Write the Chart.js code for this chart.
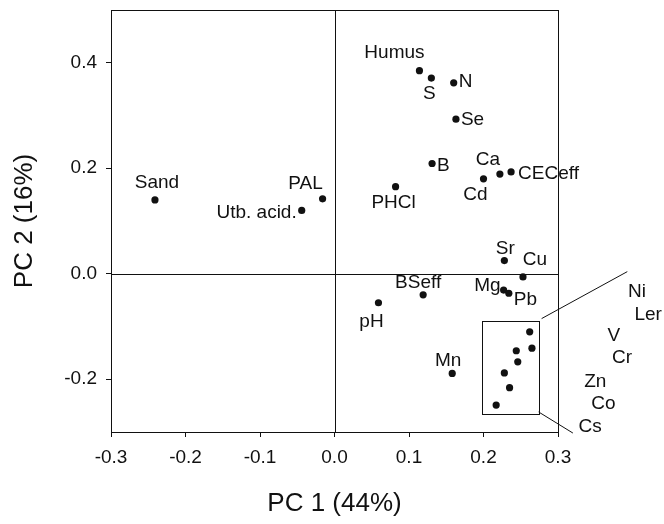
<!DOCTYPE html>
<html>
<head>
<meta charset="utf-8">
<script src="https://cdn.jsdelivr.net/npm/chart.js@4.4.0/dist/chart.umd.min.js"></script>
<style>
  html, body { margin: 0; padding: 0; background: #fff; }
  #wrap { width: 664px; height: 524px; }
</style>
</head>
<body>
<div id="wrap"><canvas id="pcaChart"></canvas></div>
<script>
// PCA loadings
const variables = ['Humus', 'S', 'N', 'Se', 'B', 'Ca', 'Cd', 'CECeff', 'PHCl', 'Sand', 'PAL', 'Utb. acid.',
    'Sr', 'Cu', 'Mg', 'Pb', 'BSeff', 'pH', 'Mn', 'Ni', 'Ler', 'V', 'Cr', 'Zn', 'Co', 'Cs'];
const pc1 = [0.114, 0.130, 0.160, 0.163, 0.131, 0.222, 0.200, 0.237, 0.082, -0.241, -0.016, -0.044,
    0.228, 0.253, 0.227, 0.234, 0.119, 0.059, 0.158, 0.262, 0.265, 0.244, 0.246, 0.228, 0.235, 0.217];
const pc2 = [0.385, 0.371, 0.362, 0.293, 0.209, 0.189, 0.180, 0.193, 0.165, 0.140, 0.142, 0.120,
    0.025, -0.006, -0.031, -0.037, -0.040, -0.055, -0.189, -0.110, -0.141, -0.146, -0.167, -0.188, -0.216, -0.249];
const xTicks = [-0.3, -0.2, -0.1, 0.0, 0.1, 0.2, 0.3];
const yTicks = [-0.2, 0.0, 0.2, 0.4];

// names shown outside the plot, next to the zoom box
const insetNames = ['Ni', 'Ler', 'V', 'Cr', 'Zn', 'Co', 'Cs'];

const FONT = '"Liberation Sans", Arial, Helvetica, sans-serif';
const INK = '#111';

// where each label sits relative to its dot: [align, dx, dy] in px
const labelPlace = {
    'Humus': ['center', -25, -18], 'S': ['center', -2, 16], 'N': ['left', 5, -1], 'Se': ['left', 5, 1],
    'B': ['left', 5, 2], 'Ca': ['center', -12, -14], 'Cd': ['center', -8, 16], 'CECeff': ['left', 7, 2],
    'PHCl': ['center', -2, 16], 'Sand': ['center', 2, -17], 'PAL': ['center', -17, -15],
    'Utb. acid.': ['right', -5, 2], 'Sr': ['center', 1, -12], 'Cu': ['center', 12, -17],
    'Mg': ['right', -3, -4], 'Pb': ['left', 5, 6], 'BSeff': ['center', -5, -12],
    'pH': ['center', -7, 19], 'Mn': ['center', -4, -13]
};

// zoom box, leader lines and inset labels, in data units
const zoomBox = { x0: 0.198, x1: 0.274, y0: -0.266, y1: -0.089 };
const leaders = [[0.278, -0.085, 0.393, 0.004], [0.274, -0.262, 0.320, -0.302]];
const insetPos = [[0.406, -0.034], [0.421, -0.078], [0.375, -0.118], [0.386, -0.160],
    [0.350, -0.205], [0.361, -0.247], [0.343, -0.290]];

const px = v => Math.round(v) + 0.5;

const decorations = {
    id: 'decorations',
    beforeDatasetsDraw(chart) {
        const { ctx, chartArea: a, scales: { x, y } } = chart;
        ctx.save();
        ctx.strokeStyle = INK;
        ctx.lineWidth = 1;
        ctx.beginPath();
        ctx.moveTo(a.left, px(a.top)); ctx.lineTo(a.right, px(a.top));
        ctx.moveTo(px(a.right), a.top); ctx.lineTo(px(a.right), a.bottom);
        const zx = px(x.getPixelForValue(0)), zy = px(y.getPixelForValue(0));
        ctx.moveTo(zx, a.top); ctx.lineTo(zx, a.bottom);
        ctx.moveTo(a.left, zy); ctx.lineTo(a.right, zy);
        ctx.stroke();
        ctx.restore();
    },
    afterDatasetsDraw(chart) {
        const { ctx, scales: { x, y } } = chart;
        ctx.save();
        ctx.strokeStyle = INK;
        ctx.fillStyle = INK;
        ctx.lineWidth = 1;

        // box round the cluster
        const bx0 = px(x.getPixelForValue(zoomBox.x0)), bx1 = px(x.getPixelForValue(zoomBox.x1));
        const by0 = px(y.getPixelForValue(zoomBox.y1)), by1 = px(y.getPixelForValue(zoomBox.y0));
        ctx.strokeRect(bx0, by0, bx1 - bx0, by1 - by0);
        ctx.beginPath();
        leaders.forEach(l => {
            ctx.moveTo(x.getPixelForValue(l[0]), y.getPixelForValue(l[1]));
            ctx.lineTo(x.getPixelForValue(l[2]), y.getPixelForValue(l[3]));
        });
        ctx.stroke();

        ctx.font = '19px ' + FONT;
        ctx.textBaseline = 'middle';

        // point labels
        const meta = chart.getDatasetMeta(0);
        meta.data.forEach((pt, i) => {
            const p = labelPlace[variables[i]];
            if (!p) return;
            ctx.textAlign = p[0];
            ctx.fillText(variables[i], pt.x + p[1], pt.y + p[2]);
        });

        // inset labels
        ctx.textAlign = 'center';
        insetNames.forEach((n, i) => {
            ctx.fillText(n, x.getPixelForValue(insetPos[i][0]), y.getPixelForValue(insetPos[i][1]));
        });
        ctx.restore();
    }
};

new Chart(document.getElementById('pcaChart'), {
    type: 'scatter',
    data: {
        datasets: [{
            label: 'Loadings',
            data: variables.map((v, i) => ({ x: pc1[i], y: pc2[i] })),
            backgroundColor: INK,
            borderColor: INK,
            pointRadius: 3.6,
            pointBorderWidth: 0
        }]
    },
    options: {
        responsive: true,
        maintainAspectRatio: false,
        animation: false,
        layout: { padding: { top: 10, right: 106, left: 0, bottom: 0 } },
        plugins: { legend: { display: false }, tooltip: { enabled: false } },
        scales: {
            x: {
                type: 'linear',
                min: -0.3,
                max: 0.3,
                afterFit: s => { s.height = 92; s.paddingLeft = 0; s.paddingRight = 0; },
                afterBuildTicks: s => { s.ticks = xTicks.map(v => ({ value: v })); },
                grid: { drawOnChartArea: false, drawTicks: true, tickLength: 5, color: INK },
                border: { display: true, color: INK, width: 1 },
                ticks: {
                    color: INK, padding: 9, maxRotation: 0,
                    font: { family: FONT, size: 19 },
                    callback: v => v.toFixed(1)
                },
                title: {
                    display: true, text: 'PC 1 (44%)', color: INK,
                    font: { family: FONT, size: 26, lineHeight: 1 },
                    padding: { top: 0, bottom: 7 }
                }
            },
            y: {
                type: 'linear',
                min: -0.3,
                max: 0.5,
                afterFit: s => { s.width = 111; s.paddingTop = 0; s.paddingBottom = 0; },
                afterBuildTicks: s => { s.ticks = yTicks.map(v => ({ value: v })); },
                grid: { drawOnChartArea: false, drawTicks: true, tickLength: 5, color: INK },
                border: { display: true, color: INK, width: 1 },
                ticks: {
                    color: INK, padding: 9,
                    font: { family: FONT, size: 19 },
                    callback: v => v.toFixed(1)
                },
                title: {
                    display: true, text: 'PC 2 (16%)', color: INK,
                    font: { family: FONT, size: 26, lineHeight: 1 },
                    padding: { top: 12, bottom: 0 }
                }
            }
        }
    },
    plugins: [decorations]
});
</script>
</body>
</html>
